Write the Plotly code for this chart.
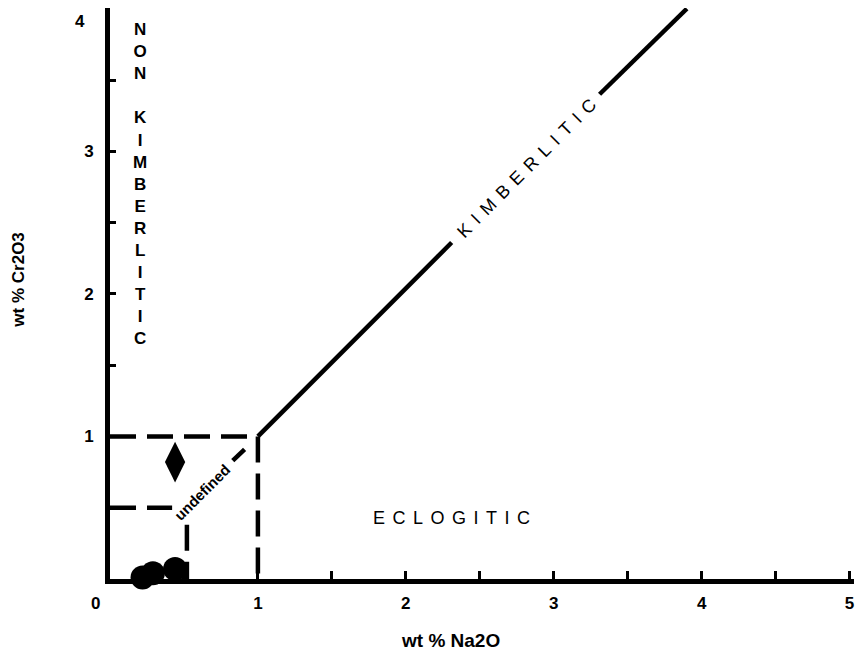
import plotly.graph_objects as go

# ---- data ----
# Kimberlitic boundary (solid, broken where the label sits)
kimb_x = [1.0, 2.31, None, 3.31, 3.9]
kimb_y = [1.0, 2.36, None, 3.40, 4.0]

# Dashed boundaries
dash_h1_x = [0.0, 1.0]
dash_h1_y = [1.0, 1.0]
dash_v1_x = [1.0, 1.0]
dash_v1_y = [1.0, 0.0]
dash_h05_x = [0.0, 0.42]
dash_h05_y = [0.5, 0.5]
dash_v05_x = [0.52, 0.52]
dash_v05_y = [0.38, 0.0]
undef_x = [0.83, 0.91]
undef_y = [0.83, 0.91]

# Sample points
circle_x = [0.22, 0.29, 0.44]
circle_y = [0.01, 0.04, 0.07]
diamond_x = [0.44]
diamond_y = [0.82]

x_tickvals = [0.5, 1, 1.5, 2, 2.5, 3, 3.5, 4, 4.5, 5]
x_ticktext = ["", "1", "", "2", "", "3", "", "4", "", "5"]
y_tickvals = [0.5, 1, 1.5, 2, 2.5, 3, 3.5]
y_ticktext = ["", "1", "", "2", "", "3", ""]
y_top_label = "4"
origin_label = "0"

FONT = "Liberation Sans, Arial, sans-serif"
DASH = "26px,11px"

fig = go.Figure()

def seg(x, y, dash="solid", w=4.5):
    fig.add_trace(go.Scatter(x=x, y=y, mode="lines", cliponaxis=False,
                             line=dict(color="black", width=w, dash=dash),
                             showlegend=False, hoverinfo="skip"))

seg(kimb_x, kimb_y)
seg(dash_h1_x, dash_h1_y, DASH)
seg(dash_v1_x, dash_v1_y, DASH)
seg(dash_h05_x, dash_h05_y, DASH)
seg(dash_v05_x, dash_v05_y, DASH)
seg(undef_x, undef_y, "solid")

fig.add_trace(go.Scatter(x=circle_x, y=circle_y, mode="markers", cliponaxis=False,
                         marker=dict(symbol="circle", size=24, color="black"),
                         showlegend=False, hoverinfo="skip"))
fig.add_trace(go.Scatter(x=diamond_x, y=diamond_y, mode="markers", cliponaxis=False,
                         marker=dict(symbol="diamond-tall", size=29, color="black"),
                         showlegend=False, hoverinfo="skip"))

sp2 = "\u2005\u2006"
bold17 = dict(size=17, family=FONT, color="black", weight="bold")
annotations = [
    dict(x=0.2, y=2.77, xref="x", yref="y",
         text="<br>".join(list("NON")) + "<br> <br>" + "<br>".join(list("KIMBERLITIC")),
         font=bold17),
    dict(x=2.82, y=2.88, xref="x", yref="y", text=sp2.join(list("KIMBERLITIC")), textangle=-45,
         font=dict(size=18, family=FONT, color="black")),
    dict(x=2.31, y=0.43, xref="x", yref="y", text=sp2.join(list("ECLOGITIC")),
         font=dict(size=18, family=FONT, color="black")),
    dict(x=0.62, y=0.61, xref="x", yref="y", text="undefined", textangle=-45,
         font=dict(size=15, family=FONT, color="black", weight="bold")),
    dict(x=-0.02, y=-0.0425, xref="paper", yref="paper", text=origin_label, font=bold17),
    dict(x=-0.0403, y=0.977, xref="paper", yref="paper", text=y_top_label, font=bold17),
    dict(x=0.457, y=-0.1075, xref="paper", yref="paper", text="wt % Na2O",
         font=dict(size=19, family=FONT, color="black", weight="bold")),
    dict(x=-0.1223, y=0.5225, xref="paper", yref="paper", text="wt % Cr2O3", textangle=-90,
         font=bold17),
]
for a in annotations:
    a.update(showarrow=False, xanchor="center", yanchor="middle")

fig.update_layout(
    width=859, height=650,
    margin=dict(l=110, r=5, t=8, b=71),
    paper_bgcolor="white", plot_bgcolor="white",
    annotations=annotations,
    xaxis=dict(range=[0, 5.03], showgrid=False, zeroline=False,
               showline=True, linecolor="black", linewidth=5,
               ticks="inside", ticklen=8, tickwidth=3, tickcolor="black",
               tickvals=x_tickvals, ticktext=x_ticktext, ticklabelstandoff=5,
               tickfont=bold17),
    yaxis=dict(range=[0, 4.005], showgrid=False, zeroline=False,
               showline=True, linecolor="black", linewidth=5,
               ticks="inside", ticklen=6, tickwidth=3, tickcolor="black",
               tickvals=y_tickvals, ticktext=y_ticktext, ticklabelstandoff=8,
               tickfont=bold17),
)

# remove the default page margin so the 859x650 figure fills the window exactly
fig.write_html("out.html",
               config={"displayModeBar": False},
               post_script="document.body.style.margin='0';document.body.style.overflow='hidden';")
